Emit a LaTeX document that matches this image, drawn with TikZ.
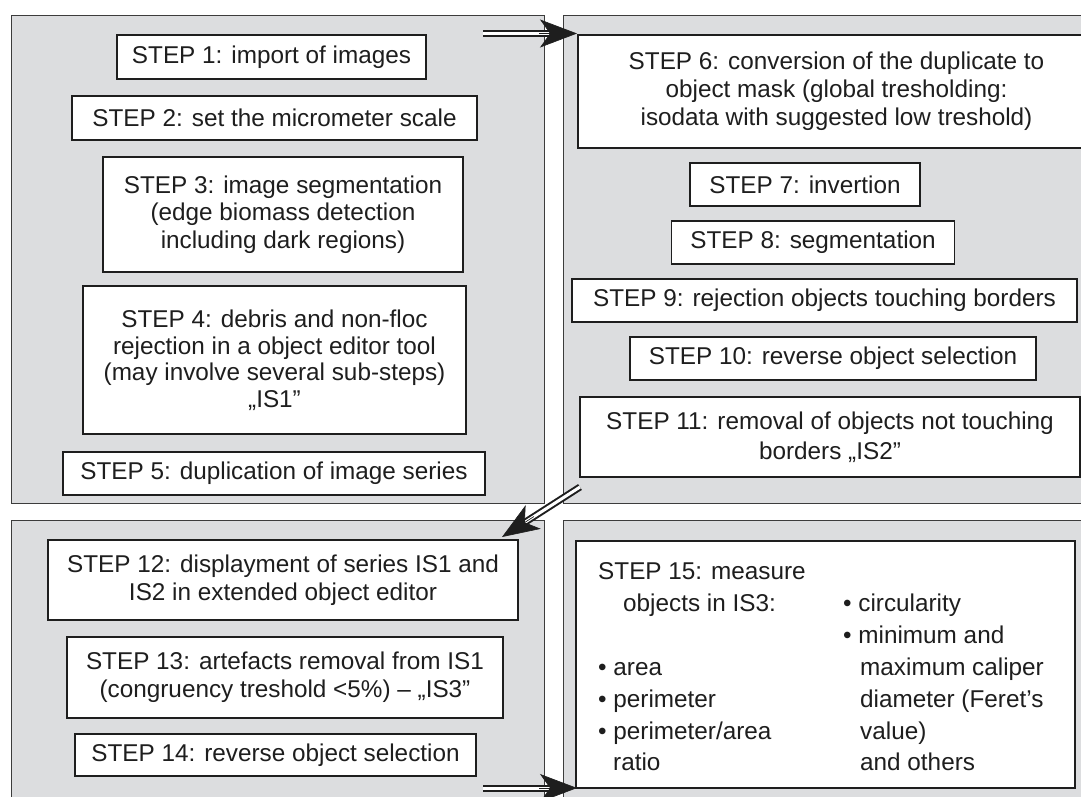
\documentclass[tikz,border=0pt]{standalone}
\usepackage{fontspec}
\setmainfont{Liberation Sans}
\usetikzlibrary{arrows.meta,calc}
\definecolor{panelgray}{HTML}{DCDDDF}
\definecolor{panelline}{HTML}{3C3C3C}
\definecolor{inkc}{HTML}{1E1E1E}
\begin{document}
\begin{tikzpicture}[x=1pt,y=-1pt,
  panel/.style={fill=panelgray, draw=panelline, line width=1.4pt, inner sep=0pt, anchor=north west},
  stepbox/.style={draw=inkc, fill=white, line width=1.3pt, inner sep=0pt, align=center, text=inkc, font=\fontsize{24.3}{27.5}\selectfont},
  dbl/.style={draw=inkc, line width=2pt, double=white, double distance=3pt},
  tipst/.style={-{Stealth[length=37pt,width=28pt,inset=10pt]}, draw=inkc, fill=inkc, line width=0.6pt},
  lbl/.style={anchor=base west, inner sep=0pt, text=inkc, font=\fontsize{24.3}{27.5}\selectfont}]
\useasboundingbox (0,0) rectangle (1081,796);
\clip (0,0) rectangle (1081,796);
\fill[white] (0,0) rectangle (1081,796);

% panels
\node[panel, minimum width=533pt, minimum height=488pt] (p1) at (11,15) {};
\node[panel, minimum width=540pt, minimum height=488pt] (p2) at (563,15) {};
\node[panel, minimum width=533pt, minimum height=300pt] (p3) at (11,520) {};
\node[panel, minimum width=540pt, minimum height=300pt] (p4) at (563,520) {};

% top-left boxes
\node[stepbox, minimum width=309pt, minimum height=44pt] (s1) at (271.5,57) {STEP 1: import of images};
\node[stepbox, minimum width=405pt, minimum height=44pt] (s2) at (274.5,118) {STEP 2: set the micrometer scale};
\node[stepbox, minimum width=360pt, minimum height=115pt] (s3) at (283,214.5) {STEP 3: image segmentation\\(edge biomass detection\\including dark regions)};
\node[stepbox, minimum width=383pt, minimum height=148pt, font=\fontsize{24.3}{26.5}\selectfont] (s4) at (274.5,360) {STEP 4: debris and non-floc\\rejection in a object editor tool\\(may involve several sub-steps)\\„IS1”};
\node[stepbox, minimum width=422pt, minimum height=43pt] (s5) at (274,473.5) {STEP 5: duplication of image series};

% top-right boxes
\node[stepbox, minimum width=517pt, minimum height=113pt, font=\fontsize{24.3}{28}\selectfont] (s6) at (836.5,91.5) {STEP 6: conversion of the duplicate to\\object mask (global tresholding:\\isodata with suggested low treshold)};
\node[stepbox, minimum width=230pt, minimum height=43pt] (s7) at (805,184.5) {STEP 7: invertion};
\node[stepbox, minimum width=283pt, minimum height=43pt] (s8) at (813,242.5) {STEP 8: segmentation};
\node[stepbox, minimum width=505pt, minimum height=43pt] (s9) at (824.5,300.5) {STEP 9: rejection objects touching borders};
\node[stepbox, minimum width=406pt, minimum height=43pt] (s10) at (833,358.5) {STEP 10: reverse object selection};
\node[stepbox, minimum width=500pt, minimum height=80pt, font=\fontsize{24.3}{30}\selectfont] (s11) at (830,437) {STEP 11: removal of objects not touching\\borders „IS2”};

% bottom-left boxes
\node[stepbox, minimum width=470pt, minimum height=80pt] (s12) at (283,580) {STEP 12: displayment of series IS1 and\\IS2 in extended object editor};
\node[stepbox, minimum width=436pt, minimum height=81pt, font=\fontsize{24.3}{28}\selectfont] (s13) at (285,677.5) {STEP 13: artefacts removal from IS1\\(congruency treshold <5\%) – „IS3”};
\node[stepbox, minimum width=401pt, minimum height=42pt] (s14) at (275.5,755) {STEP 14: reverse object selection};

% bottom-right box
\node[stepbox, minimum width=499pt, minimum height=247pt] (s15) at (825.5,664.5) {};
\node[lbl] (t1) at (598,579) {STEP 15: measure};
\node[lbl] (t2) at (623,611) {objects in IS3:};
\node[lbl] (t3) at (598,675) {• area};
\node[lbl] (t4) at (598,707) {• perimeter};
\node[lbl] (t5) at (598,739) {• perimeter/area};
\node[lbl] (t6) at (613,770) {ratio};
\node[lbl] (u1) at (843,611) {• circularity};
\node[lbl] (u2) at (843,643) {• minimum and};
\node[lbl] (u3) at (860,675) {maximum caliper};
\node[lbl] (u4) at (860,707) {diameter (Feret’s};
\node[lbl] (u5) at (860,739) {value)};
\node[lbl] (u6) at (860,770) {and others};

% arrows
\coordinate (a1s) at (483,33.5);
\coordinate (a1e) at (577,33.5);
\draw[dbl] (a1s) -- ($(a1e)!22pt!(a1s)$);
\draw[tipst] ($(a1e)!38pt!(a1s)$) -- (a1e);

\coordinate (a2s) at (580,487);
\coordinate (a2e) at (502,537);
\draw[dbl] (a2s) -- ($(a2e)!22pt!(a2s)$);
\draw[tipst] ($(a2e)!38pt!(a2s)$) -- (a2e);

\coordinate (a3s) at (483,788);
\coordinate (a3e) at (577,788);
\draw[dbl] (a3s) -- ($(a3e)!22pt!(a3s)$);
\draw[tipst] ($(a3e)!38pt!(a3s)$) -- (a3e);
\end{tikzpicture}
\end{document}
